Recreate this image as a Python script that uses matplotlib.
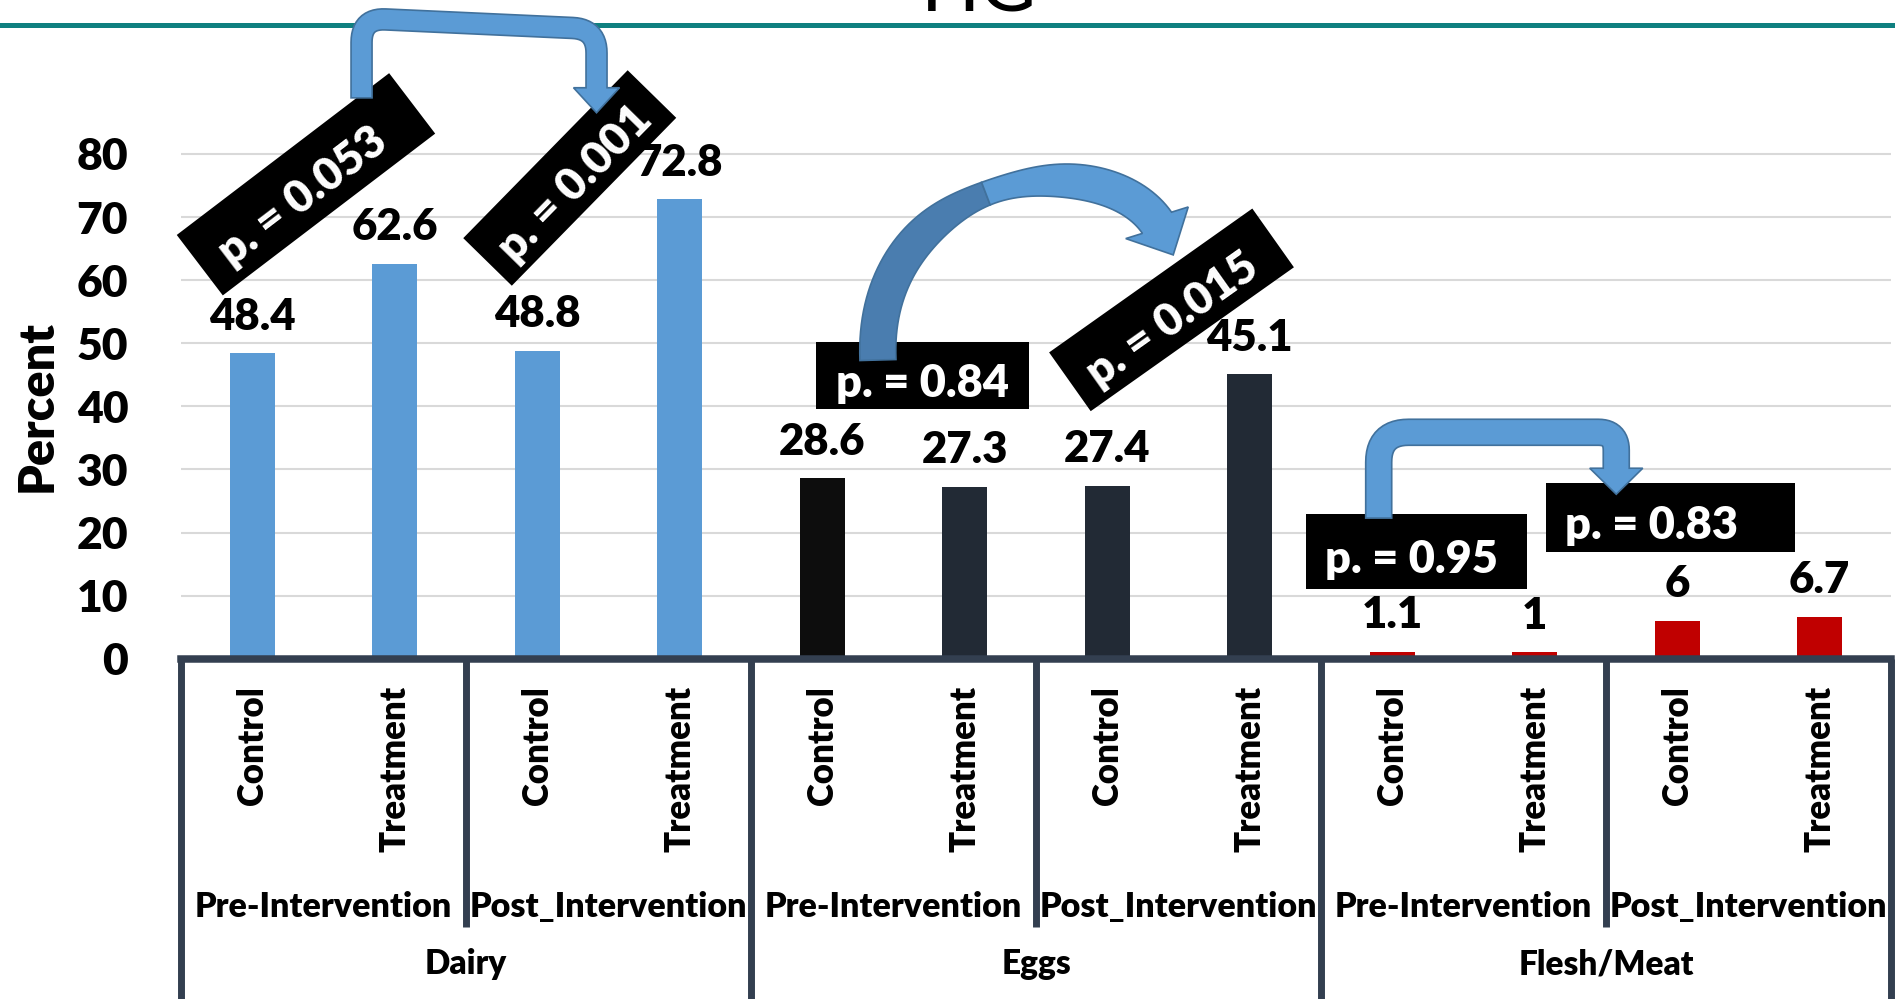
import numpy as np
import matplotlib
matplotlib.use("Agg")
import matplotlib.pyplot as plt
import matplotlib.transforms as mtransforms
from matplotlib.lines import Line2D
from matplotlib.patches import Polygon

plt.rcParams["font.family"] = ["Lato", "DejaVu Sans"]

W, H = 1895, 999
BOLD = "heavy"

foods = ["Dairy", "Eggs", "Flesh/Meat"]
periods = ["Pre-Intervention", "Post_Intervention"]
groups = ["Control", "Treatment"]

dairy = [48.4, 62.6, 48.8, 72.8]
eggs = [28.6, 27.3, 27.4, 45.1]
flesh_meat = [1.1, 1, 6, 6.7]

p_values = ["p. = 0.053", "p. = 0.001", "p. = 0.84", "p. = 0.015", "p. = 0.95", "p. = 0.83"]

values = dairy + eggs + flesh_meat
bar_colors = ["#5B9BD5"] * 4 + ["#0D0D0D", "#222A35", "#222A35", "#222A35"] + ["#C00000"] * 4
x = np.arange(len(values))

AXIS_COLOR = "#333F50"
ARROW_FILL = "#5B9BD5"
ARROW_DARK = "#4A7DAF"
ARROW_EDGE = "#41719C"

fig = plt.figure(figsize=(W / 100, H / 100), dpi=100)
fig.patch.set_facecolor("white")
ax = fig.add_axes([181 / W, 1 - 658.8 / H, 1710 / W, 631 / H])

ax.bar(x, values, width=0.316, color=bar_colors, zorder=2)
ax.set_xlim(-0.5, 11.5)
ax.set_ylim(0, 100)
ax.set_yticks(range(0, 90, 10))
ax.set_xticks([])
ax.tick_params(axis="y", length=0, pad=38, labelsize=32)
for lab in ax.get_yticklabels():
    lab.set_fontweight(BOLD)
ax.grid(axis="y", color="#D9D9D9", linewidth=1.5)
ax.set_axisbelow(True)
for side in ["left", "top", "right"]:
    ax.spines[side].set_visible(False)
ax.spines["bottom"].set_color(AXIS_COLOR)
ax.spines["bottom"].set_linewidth(5.4)

ylab_trans = mtransforms.blended_transform_factory(ax.transAxes, ax.transData)
ax.text(-0.0842, 40, "Percent", transform=ylab_trans, rotation=90,
        ha="center", va="center", fontsize=35, fontweight=BOLD)

# value labels over the bars
for xi, v in zip(x, values):
    ax.annotate(f"{v:g}", (xi, v), xytext=(0, 17), textcoords="offset points",
                ha="center", va="baseline", fontsize=31.5, fontweight=BOLD)

# multi-level category axis
xt = ax.get_xaxis_transform()
for xi in x:
    ax.text(xi, -0.043, groups[xi % 2], transform=xt, rotation=90, ha="center",
            va="top", fontsize=25, fontweight=BOLD)
for k in range(len(foods) * len(periods)):
    ax.text(2 * k + 0.5, -0.409, periods[k % 2], transform=xt, ha="center",
            va="baseline", fontsize=24.5, fontweight=BOLD)
for k, food in enumerate(foods):
    ax.text(4 * k + 1.5, -0.5, food, transform=xt, ha="center",
            va="baseline", fontsize=24, fontweight=BOLD)

bottom_edge = -(H - 658.8) / 631
inner_edge = -(927 - 658.8) / 631
for xs in [-0.5, 3.5, 7.5, 11.5]:
    ax.plot([xs, xs], [0, bottom_edge], transform=xt, color=AXIS_COLOR,
            lw=5, clip_on=False, solid_capstyle="butt")
for xs in [1.5, 5.5, 9.5]:
    ax.plot([xs, xs], [0, inner_edge], transform=xt, color=AXIS_COLOR,
            lw=5, clip_on=False, solid_capstyle="butt")

# title and header rule
fig.text(979 / W, 1 - 11.7 / H, "HG", ha="center", va="baseline", fontsize=56)
fig.add_artist(Line2D([0, 1], [1 - 25.2 / H] * 2, color="#0F8080", lw=3.6))

to_fig = fig.transFigure.inverted()


def disp(pt):
    return ax.transData.transform(pt)


def add_poly(pts, **kw):
    fig.add_artist(Polygon(to_fig.transform(pts), closed=True,
                           transform=fig.transFigure, **kw))


def rounded_path(pts, radius, n=14):
    pts = [np.asarray(p, float) for p in pts]
    out = [pts[0]]
    for i in range(1, len(pts) - 1):
        p0, p1, p2 = pts[i - 1], pts[i], pts[i + 1]
        l1, l2 = np.linalg.norm(p1 - p0), np.linalg.norm(p2 - p1)
        r = min(radius, l1 / 2, l2 / 2)
        a = p1 - (p1 - p0) / l1 * r
        b = p1 + (p2 - p1) / l2 * r
        for t in np.linspace(0, 1, n):
            out.append((1 - t) ** 2 * a + 2 * (1 - t) * t * p1 + t ** 2 * b)
    out.append(pts[-1])
    return np.array(out)


def ribbon(c, widths):
    tang = np.gradient(c, axis=0)
    tang /= np.linalg.norm(tang, axis=1)[:, None]
    nrm = np.column_stack([-tang[:, 1], tang[:, 0]])
    w = np.broadcast_to(widths, (len(c),))[:, None] / 2
    return c + nrm * w, c - nrm * w, tang[-1]


def head_points(base, direction, head_w, head_l):
    d = np.asarray(direction, float)
    d /= np.linalg.norm(d)
    n = np.array([-d[1], d[0]])
    return np.array([base + n * head_w / 2, base + d * head_l, base - n * head_w / 2])


def bent_arrow(data_pts, shaft_w, head_w, head_l, radius):
    c = rounded_path([disp(p) for p in data_pts], radius)
    left, right, d = ribbon(c, shaft_w)
    pts = np.vstack([left, head_points(c[-1], d, head_w, head_l), right[::-1]])
    add_poly(pts, facecolor=ARROW_FILL, edgecolor=ARROW_EDGE, lw=1.2, zorder=4)


def curved_arrow(ctrl, head_dir, head_w, head_l):
    p = np.array([disp(q) for q in ctrl])
    t = np.linspace(0, 1, 80)[:, None]
    c = ((1 - t) ** 3 * p[0] + 3 * (1 - t) ** 2 * t * p[1]
         + 3 * (1 - t) * t ** 2 * p[2] + t ** 3 * p[3])
    tt = t[:, 0]
    widths = 36 - 12 * np.exp(-((tt - 0.5) / 0.15) ** 2)
    left, right, _ = ribbon(c, widths)
    k = 38
    back = np.vstack([left[:k + 1], right[:k + 1][::-1]])
    add_poly(back, facecolor=ARROW_DARK, edgecolor=ARROW_EDGE, lw=1.2, zorder=4)
    front = np.vstack([left[k:], head_points(c[-1], head_dir, head_w, head_l),
                       right[k:][::-1]])
    add_poly(front, facecolor=ARROW_FILL, edgecolor=ARROW_EDGE, lw=1.2, zorder=4)


# p-value callouts: centre (data), angle, box size in px, text shift along box
boxes = [
    (0.377, 75.2, 37.3, 267, 76, -10),
    (2.228, 76.2, 45.6, 235, 68, 0),
    (4.704, 44.9, 0.0, 213, 67, 0),
    (6.451, 55.3, 35.3, 249, 72, -5),
    (8.170, 17.0, 0.0, 221, 75, -5),
    (9.953, 22.4, 0.0, 249, 69, -19),
]
for label, (bx, by, ang, bw, bh, shift) in zip(p_values, boxes):
    c = disp((bx, by))
    a = np.radians(ang)
    u = np.array([np.cos(a), np.sin(a)])
    v = np.array([-np.sin(a), np.cos(a)])
    corners = np.array([c - u * bw / 2 - v * bh / 2, c + u * bw / 2 - v * bh / 2,
                        c + u * bw / 2 + v * bh / 2, c - u * bw / 2 + v * bh / 2])
    add_poly(corners, facecolor="black", edgecolor="none", zorder=3)
    tpos = to_fig.transform(c + u * shift - v * 8)
    fig.text(tpos[0], tpos[1], label, rotation=ang, rotation_mode="anchor",
             ha="center", va="center", color="white", fontsize=32.5,
             fontweight=BOLD, zorder=5)

# arrows linking pre and post comparisons
bent_arrow([(0.767, 88.9), (0.767, 101.5), (2.416, 99.8), (2.416, 90.5)],
           21, 46, 25, 24)
curved_arrow([(4.391, 47.35), (4.335, 76.67), (5.949, 82.2), (6.349, 69.1)],
             (0.45, -0.89), 70, 36)
bent_arrow([(7.905, 22.3), (7.905, 35.9), (9.572, 35.9), (9.572, 30.2)],
           26, 53, 26, 30)

fig.savefig("out.png", dpi=100, facecolor="white")
